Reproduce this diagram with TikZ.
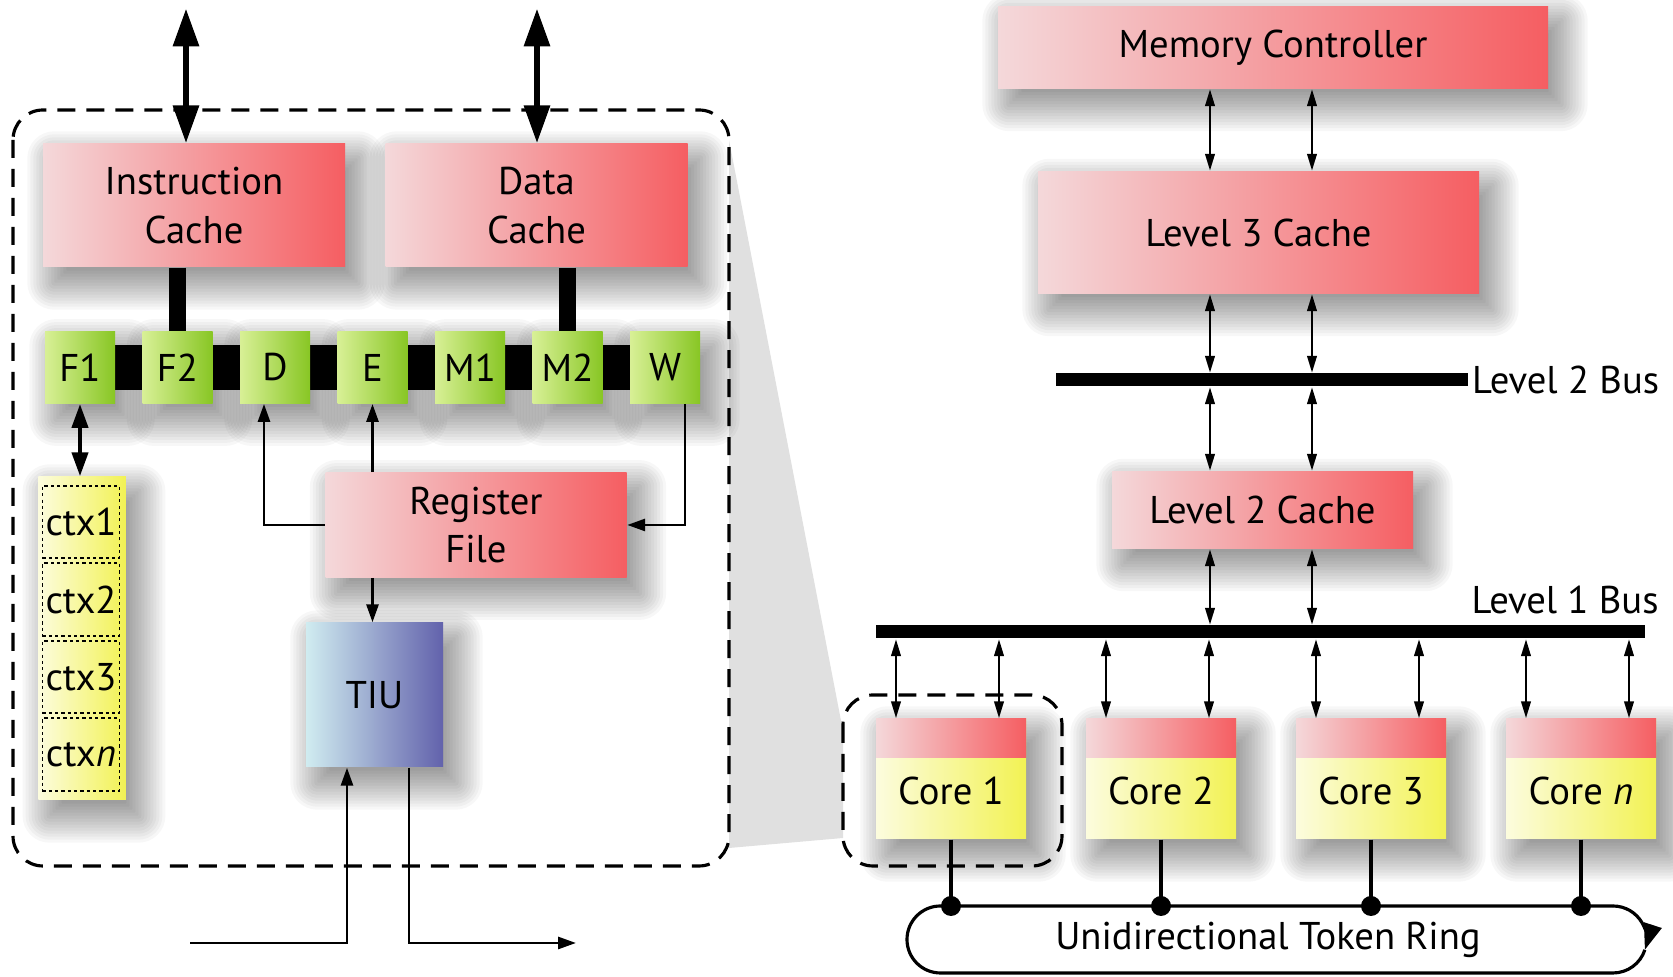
\documentclass[tikz,border=0pt]{standalone}
\usepackage{fontspec}
\setmainfont{PT Sans}
\usetikzlibrary{positioning,calc,arrows.meta}

\pgfdeclarelayer{back}
\pgfdeclarelayer{haze}
\pgfsetlayers{back,haze,main}

\definecolor{cachel}{RGB}{244,216,218}
\definecolor{cacher}{RGB}{245,94,98}
\definecolor{stagel}{RGB}{216,240,150}
\definecolor{stager}{RGB}{136,198,36}
\definecolor{ctxl}{RGB}{252,252,222}
\definecolor{ctxr}{RGB}{242,242,84}
\definecolor{tiul}{RGB}{208,236,240}
\definecolor{tiur}{RGB}{98,98,172}
\definecolor{wedge}{RGB}{224,224,224}

\tikzset{
  every node/.append style={font=\fontsize{11}{13.7}\selectfont},
  cachebox/.style={left color=cachel,right color=cacher,inner sep=0pt,align=center},
  stagebox/.style={left color=stagel,right color=stager,inner sep=0pt,minimum width=0.70cm,minimum height=0.715cm},
  ctxbox/.style={left color=ctxl,right color=ctxr,inner sep=0pt,minimum width=0.875cm,minimum height=3.23cm},
  slotbox/.style={draw,line width=0.5pt,dash pattern=on 0.9pt off 0.9pt,inner sep=0pt,minimum width=0.77cm,minimum height=0.725cm},
  tiubox/.style={left color=tiul,right color=tiur,inner sep=0pt,minimum width=1.37cm,minimum height=1.44cm},
  corebox/.style={left color=ctxl,right color=ctxr,inner sep=0pt,minimum width=1.50cm,minimum height=1.20cm,text height=0.51cm,text depth=0pt},
  capbox/.style={left color=cachel,right color=cacher,inner sep=0pt,minimum width=1.50cm,minimum height=0.39cm},
  busbar/.style={fill=black,inner sep=0pt,minimum height=0.13cm},
  bigarrow/.style={line width=1.8pt,<->,>={Triangle[length=3.8mm,width=2.5mm]}},
  midarrow/.style={line width=1.2pt,<->,>={Triangle[length=2.4mm,width=1.6mm]}},
  feed/.style={line width=0.8pt,->,>={Triangle[length=1.8mm,width=1.2mm]}},
  buslink/.style={line width=0.7pt,<->,>={Triangle[length=1.7mm,width=0.95mm]}},
  zoomframe/.style={line width=0.9pt,dash pattern=on 1.8mm off 1.1mm,rounded corners=0.3cm}
}

\begin{document}
\begin{tikzpicture}
	\useasboundingbox (0,0) rectangle (16.73,-9.77);

	% core detail (left)
	\node[cachebox,minimum width=3.02cm,minimum height=1.23cm] (icache) at (1.94,-2.055) {Instruction\\Cache};
	\node[cachebox,minimum width=3.02cm,minimum height=1.23cm] (dcache) at (5.365,-2.055) {Data\\Cache};
	\foreach \s [count=\i from 0] in {F1,F2,D,E,M1,M2,W} {\node[stagebox] (\s) at ({0.80+0.975*\i},-3.675) {\s};}
	\node[ctxbox] (ctxcol) at (0.82,-6.385) {};
	\node[slotbox] (ctx1) at (0.81,-5.22) {ctx1};
	\node[slotbox] (ctx2) at (0.81,-5.995) {ctx2};
	\node[slotbox] (ctx3) at (0.81,-6.77) {ctx3};
	\node[slotbox] (ctxn) at (0.81,-7.545) {ctx\textit{n}};
	\node[cachebox,minimum width=3.01cm,minimum height=1.045cm] (RF) at (4.76,-5.25) {Register\\File};
	\node[tiubox] (TIU) at (3.745,-6.95) {TIU};
	\coordinate (icmem) at (1.86,-0.085);
	\coordinate (dcmem) at (5.37,-0.085);
	\coordinate (tiuin) at (1.90,-9.43);
	\coordinate (tiuout) at (5.76,-9.43);

	% chip (right)
	\node[cachebox,minimum width=5.50cm,minimum height=0.82cm] (MC) at (12.73,-0.475) {Memory Controller};
	\node[cachebox,minimum width=4.41cm,minimum height=1.22cm] (L3) at (12.585,-2.325) {Level 3 Cache};
	\node[busbar,minimum width=4.12cm] (bus2) at (12.62,-3.80) {};
	\node[anchor=west] (bus2lbl) at ([xshift=-0.09cm]bus2.east) {Level 2 Bus};
	\node[cachebox,minimum width=3.01cm,minimum height=0.77cm] (L2) at (12.625,-5.10) {Level 2 Cache};
	\node[busbar,minimum width=7.69cm] (bus1) at (12.605,-6.32) {};
	\node[anchor=east] (bus1lbl) at (16.71,-6.00) {Level 1 Bus};
	\foreach \i/\lbl in {1/1,2/2,3/3,4/\textit{n}} {
		\node[corebox] (core\i) at ({9.51+2.10*(\i-1)},-7.79) {Core \lbl};
		\node[capbox,anchor=north] (cap\i) at (core\i.north) {};
	}
	\node (ringlbl) at (12.68,-9.40) {Unidirectional Token Ring};

	\begin{pgfonlayer}{back}
		\fill[white] (0,0) rectangle (16.73,-9.77);
		\fill[wedge] (7.29,-1.40) -- (8.43,-7.31) -- (8.43,-8.38) -- (7.29,-8.48) -- cycle;
		\draw[line width=0.45cm] (F1.center) -- (W.center);
	\end{pgfonlayer}
	% soft shadows
	\begin{pgfonlayer}{haze}
		\foreach \n in {icache,dcache,F1,F2,D,E,M1,M2,W,ctxcol,RF,TIU,MC,L3,L2,core1,core2,core3,core4} {
			\foreach \g in {-0.12,-0.09,...,0.28} {
				\pgfmathsetmacro\ga{0.12-\g}
				\pgfmathsetmacro\gb{-0.15+\g}
				\pgfmathsetmacro\gc{0.12+\g}
				\pgfmathsetmacro\gd{-0.15-\g}
				\pgfmathsetmacro\gr{max(\g,0.01)}
				\fill[black,opacity=0.03,rounded corners=\gr cm] ([shift={(\ga,\gb)}]\n.north west) rectangle ([shift={(\gc,\gd)}]\n.south east);
			}
		}
	\end{pgfonlayer}

	\draw[bigarrow] (icmem) -- (icmem |- icache.north);
	\draw[bigarrow] (dcmem) -- (dcmem |- dcache.north);
	\draw[line width=0.17cm] (icache.south -| F2) -- (F2.north);
	\draw[line width=0.17cm] (dcache.south -| M2) -- (M2.north);
	\draw[midarrow] (F1.south) -- (F1.south |- ctxcol.north);
	\draw[feed] (RF.west) -| ([xshift=-0.11cm]D.south);
	\draw[feed] (RF.north -| E.south) -- (E.south);
	\draw[feed] ([xshift=0.2cm]W.south) |- (RF.east);
	\draw[feed] (RF.south -| E.south) -- (TIU.north -| E.south);
	\draw[feed] (tiuin) -| ([xshift=-0.275cm]TIU.south);
	\draw[feed] ([xshift=0.345cm]TIU.south) |- (tiuout);
	\draw[zoomframe] (0.13,-1.10) rectangle (7.29,-8.66);

	\foreach \x in {12.10,13.12} {
		\draw[buslink] (MC.south -| \x,0) -- (L3.north -| \x,0);
		\draw[buslink] (L3.south -| \x,0) -- (bus2.north -| \x,0);
		\draw[buslink] (bus2.south -| \x,0) -- (L2.north -| \x,0);
		\draw[buslink] (L2.south -| \x,0) -- (bus1.north -| \x,0);
	}
	\foreach \i in {1,...,4} {
		\pgfmathsetmacro\xl{9.51+2.10*(\i-1)-0.55}
		\pgfmathsetmacro\xr{9.51+2.10*(\i-1)+0.48}
		\draw[buslink] (bus1.south -| \xl,0) -- (cap\i.north -| \xl,0);
		\draw[buslink] (bus1.south -| \xr,0) -- (cap\i.north -| \xr,0);
		\coordinate (tap\i) at (core\i.south |- 0,-9.06);
		\draw[line width=0.9pt] (core\i.south) -- (tap\i);
		\fill (tap\i) circle (0.1);
	}
	\draw[zoomframe] (8.43,-6.95) rectangle (10.62,-8.66);

	% token ring
	\draw[line width=0.9pt,-{Triangle[length=2.6mm,width=1.8mm]}] (16.13,-9.06) arc[start angle=90,end angle=-18,radius=0.335];
	\draw[line width=0.9pt] (16.13,-9.395) ++(-18:0.335) arc[start angle=-18,end angle=-90,radius=0.335] -- (9.405,-9.73) arc[start angle=270,end angle=90,radius=0.335] -- (16.13,-9.06);
\end{tikzpicture}
\end{document}
